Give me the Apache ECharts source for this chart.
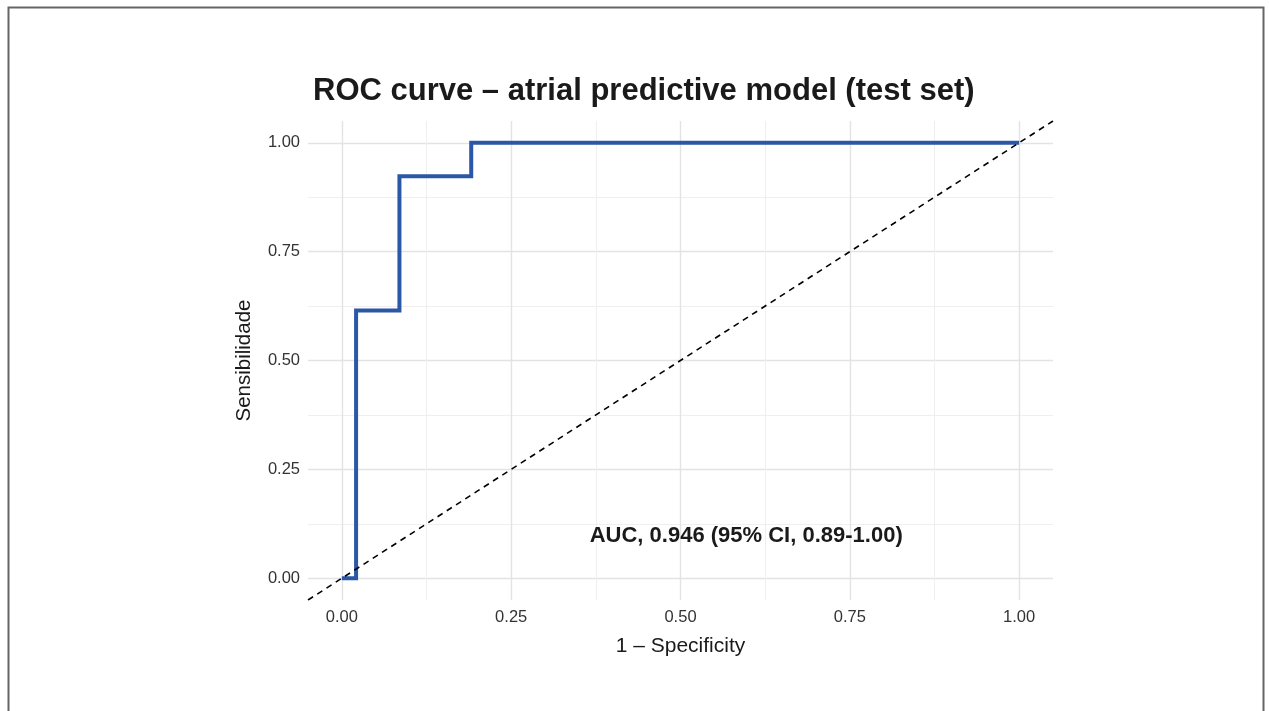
<!DOCTYPE html>
<html>
<head>
<meta charset="utf-8">
<script src="https://cdn.jsdelivr.net/npm/echarts@6/dist/echarts.min.js"></script>
<style>
html,body{margin:0;padding:0;background:#fff;}
#chart{width:1269px;height:711px;}
</style>
</head>
<body>
<div id="chart"></div>
<script>
// ROC curve data (1 - specificity, sensitivity)
const fprValues = [0, 0.021, 0.021, 0.085, 0.085, 0.191, 0.191, 1.0];
const tprValues = [0, 0, 0.615, 0.615, 0.923, 0.923, 1.0, 1.0];
// reference diagonal
const diagX = [-0.05, 1.05];
const diagY = [-0.05, 1.05];
// ticks
const majorTicks = [0, 0.25, 0.5, 0.75, 1.0];
const minorTicks = [0.125, 0.375, 0.625, 0.875];
const tickLabels = ['0.00', '0.25', '0.50', '0.75', '1.00'];
// annotation
const annotationText = 'AUC, 0.946 (95% CI, 0.89-1.00)';
const annotationPos = [0.597, 0.097];
const titleText = 'ROC curve \u2013 atrial predictive model (test set)';
const xTitle = '1 \u2013 Specificity';
const yTitle = 'Sensibilidade';

const FONT = '"Liberation Sans", Arial, Helvetica, sans-serif';
const fmt = v => tickLabels[majorTicks.indexOf(+v.toFixed(3))] ?? v.toFixed(2);

const chart = echarts.init(document.getElementById('chart'), null, {renderer: 'canvas'});
const axisCommon = {min: -0.05, max: 1.05, type: 'value'};

chart.setOption({
  backgroundColor: '#fff',
  animation: false,
  textStyle: {fontFamily: FONT},
  title: {
    text: titleText, left: 308, top: 71,
    textStyle: {fontFamily: FONT, fontSize: 31, fontWeight: 'bold', color: '#1a1a1a'}
  },
  graphic: [{
    type: 'rect', shape: {x: 8.5, y: 7.5, width: 1255, height: 760},
    style: {fill: 'none', stroke: '#666', lineWidth: 2}, silent: true, z: -10
  }],
  grid: {left: 308, right: 216, top: 121, bottom: 111},
  xAxis: [
    Object.assign({}, axisCommon, {
      name: xTitle, nameLocation: 'middle', nameGap: 36,
      nameTextStyle: {fontFamily: FONT, fontSize: 21, color: '#1a1a1a'},
      axisLine: {show: false},
      axisTick: {show: false, customValues: majorTicks},
      axisLabel: {customValues: majorTicks, formatter: fmt, fontFamily: FONT, fontSize: 16.5, color: '#333', margin: 9},
      splitLine: {show: true, lineStyle: {color: '#e3e3e3', width: 1.4}}
    }),
    Object.assign({}, axisCommon, {
      position: 'bottom', show: true,
      axisLine: {show: false},
      axisTick: {show: false, customValues: minorTicks},
      axisLabel: {show: false},
      splitLine: {show: true, lineStyle: {color: '#efefef', width: 1}}
    })
  ],
  yAxis: [
    Object.assign({}, axisCommon, {
      name: yTitle, nameLocation: 'middle', nameGap: 53,
      nameTextStyle: {fontFamily: FONT, fontSize: 20.5, color: '#1a1a1a'},
      axisLine: {show: false},
      axisTick: {show: false, customValues: majorTicks},
      axisLabel: {customValues: majorTicks, formatter: fmt, fontFamily: FONT, fontSize: 16.5, color: '#333', margin: 8},
      splitLine: {show: true, lineStyle: {color: '#e3e3e3', width: 1.4}}
    }),
    Object.assign({}, axisCommon, {
      position: 'left',
      axisLine: {show: false},
      axisTick: {show: false, customValues: minorTicks},
      axisLabel: {show: false},
      splitLine: {show: true, lineStyle: {color: '#efefef', width: 1}}
    })
  ],
  series: [
    {
      type: 'line', xAxisIndex: 0, yAxisIndex: 0,
      data: fprValues.map((x, i) => [x, tprValues[i]]),
      showSymbol: false, symbol: 'none',
      lineStyle: {color: '#2b57a7', width: 4, join: 'miter'},
      z: 3
    },
    {
      type: 'line', xAxisIndex: 0, yAxisIndex: 0,
      data: diagX.map((x, i) => [x, diagY[i]]),
      showSymbol: false, symbol: 'none',
      lineStyle: {color: '#000', width: 1.6, type: [6, 5]},
      z: 4
    },
    {
      type: 'scatter', xAxisIndex: 0, yAxisIndex: 0,
      data: [annotationPos], symbolSize: 0,
      itemStyle: {opacity: 1},
      label: {show: true, position: 'inside', formatter: annotationText,
        fontFamily: FONT, fontSize: 22, fontWeight: 'bold', color: '#1a1a1a', opacity: 1},
      z: 5
    }
  ]
});
</script>
</body>
</html>
